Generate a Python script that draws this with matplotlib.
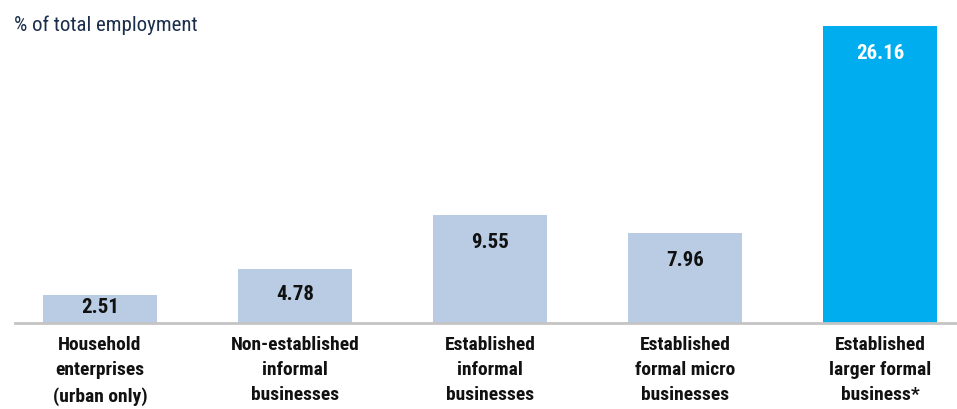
import matplotlib
matplotlib.use("Agg")
import matplotlib.pyplot as plt
from matplotlib import font_manager

categories = ["Household\nenterprises\n(urban only)",
              "Non-established\ninformal\nbusinesses",
              "Established\ninformal\nbusinesses",
              "Established\nformal micro\nbusinesses",
              "Established\nlarger formal\nbusiness*"]
values = [2.51, 4.78, 9.55, 7.96, 26.16]
value_labels = ["2.51", "4.78", "9.55", "7.96", "26.16"]
bar_colors = ["#b9cce4", "#b9cce4", "#b9cce4", "#b9cce4", "#00aeef"]
label_colors = ["#111111", "#111111", "#111111", "#111111", "#ffffff"]
title = "% of total employment"

names = {f.name for f in font_manager.fontManager.ttflist}
fam = [n for n in ["Roboto Condensed", "Liberation Sans Narrow", "Open Sans", "DejaVu Sans"] if n in names]
plt.rcParams['font.family'] = fam

W, H = 957, 410
fig = plt.figure(figsize=(W / 100, H / 100), dpi=100)
left_px, right_px, base_px = 15, 957, 324
ax = fig.add_axes([left_px / W, (H - base_px) / H, (right_px - left_px) / W, base_px / H])

x = list(range(len(values)))
ax.bar(x, values, width=114 / 195, color=bar_colors, zorder=2)
ax.set_xlim((left_px - 100) / 195, (right_px - 100) / 195)
ymax = 26.16 * base_px / (base_px - 27)
ax.set_ylim(0, ymax)

for s in ax.spines.values():
    s.set_visible(False)
ax.axhline(0, color="#c4c4c4", lw=2, zorder=3, clip_on=False)
ax.set_yticks([])
ax.set_xticks(x)
ax.set_xticklabels(categories, fontsize=14, fontweight="bold", color="#111111", linespacing=1.5)
ax.tick_params(axis="x", length=0, pad=9)

px_per_unit = base_px / ymax
for xi, v, lab, c in zip(x, values, value_labels, label_colors):
    bar_px = v * px_per_unit
    off = min(27, bar_px / 2 - 2)
    ax.annotate(lab, (xi, v), xytext=(0, -off), textcoords="offset pixels",
                ha="center", va="center", fontsize=15, fontweight="bold", color=c, zorder=4)

fig.text(14 / W, 1 - 25 / H, title, fontsize=15, color="#1b2f4d", va="center", ha="left")

fig.savefig("out.png", dpi=100)
